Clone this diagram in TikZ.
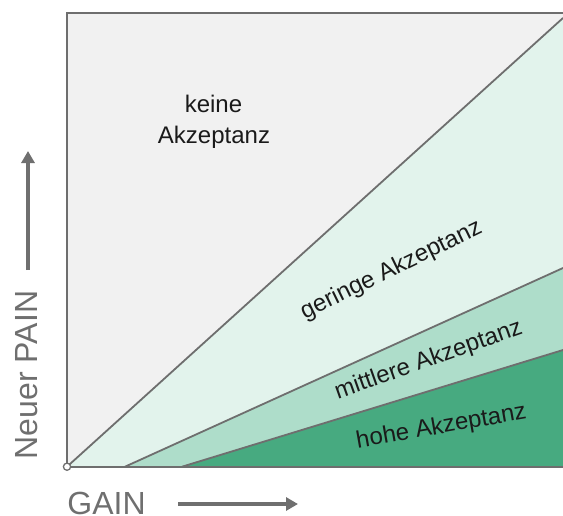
\documentclass[tikz,border=0pt]{standalone}
\usepackage{fontspec}
\setmainfont{Liberation Sans}
\usetikzlibrary{arrows.meta}
\definecolor{bggray}{HTML}{F1F1F1}
\definecolor{mint}{HTML}{E2F3EC}
\definecolor{midgreen}{HTML}{AEDDCA}
\definecolor{darkgreen}{HTML}{47AA80}
\definecolor{linegray}{HTML}{6E6E6E}
\definecolor{axisgray}{HTML}{6F6F6F}
\definecolor{txt}{HTML}{1A1A1A}
\tikzset{
  frameline/.style={draw=linegray, line width=2pt},
  sepline/.style={draw=linegray, line width=1.8pt},
  axisarrow/.style={draw=axisgray, line width=3.2pt, -{Triangle[length=12pt,width=13pt]}},
  axislabel/.style={text=axisgray, font=\fontsize{32}{38}\selectfont, inner sep=0pt},
  zonelabel/.style={text=txt, font=\fontsize{24}{28}\selectfont, inner sep=0pt, anchor=base}
}
\begin{document}
\begin{tikzpicture}[x=1pt,y=-1pt]
\useasboundingbox (0,0) rectangle (563,515);
% key points
\coordinate (O) at (67,466.7);
\coordinate (TL) at (67,13);
\coordinate (TR) at (563,13);
\coordinate (BR) at (563,466.7);
\coordinate (E1) at (563,18);
\coordinate (S2) at (125,466.7);
\coordinate (E2) at (563,268);
\coordinate (S3) at (182,466.7);
\coordinate (E3) at (563,350);
% zones
\fill[bggray] (TL) rectangle (BR);
\fill[mint] (O) -- (E1) -- (BR) -- cycle;
\fill[midgreen] (S2) -- (E2) -- (BR) -- cycle;
\fill[darkgreen] (S3) -- (E3) -- (BR) -- cycle;
% separators
\draw[sepline] (O) -- (E1);
\draw[sepline] (S2) -- (E2);
\draw[sepline] (S3) -- (E3);
% frame
\draw[frameline] (TR) -- (TL) -- (O) -- (BR);
\draw[draw=axisgray, line width=1.3pt, fill=white] (O) circle (3.6);
% zone labels
\node[zonelabel] (keine1) at (213.5,112.7) {keine};
\node[zonelabel] (keine2) at (214,143.3) {Akzeptanz};
\node[zonelabel, rotate=26] (gering) at (394.2,275.8) {geringe Akzeptanz};
\node[zonelabel, rotate=19.5] (mittel) at (430.8,366.2) {mittlere Akzeptanz};
\node[zonelabel, rotate=10] (hoch) at (442.5,433.3) {hohe Akzeptanz};
% axes labels and arrows
\node[axislabel, rotate=90, anchor=base] (pain) at (37.5,375) {Neuer PAIN};
\node[axislabel, anchor=base] (gain) at (106.5,514.5) {GAIN};
\coordinate (pa1) at (28,270);
\coordinate (pa2) at (28,151);
\coordinate (ga1) at (178,504);
\coordinate (ga2) at (298,504);
\draw[axisarrow] (pa1) -- (pa2);
\draw[axisarrow] (ga1) -- (ga2);
\end{tikzpicture}
\end{document}
